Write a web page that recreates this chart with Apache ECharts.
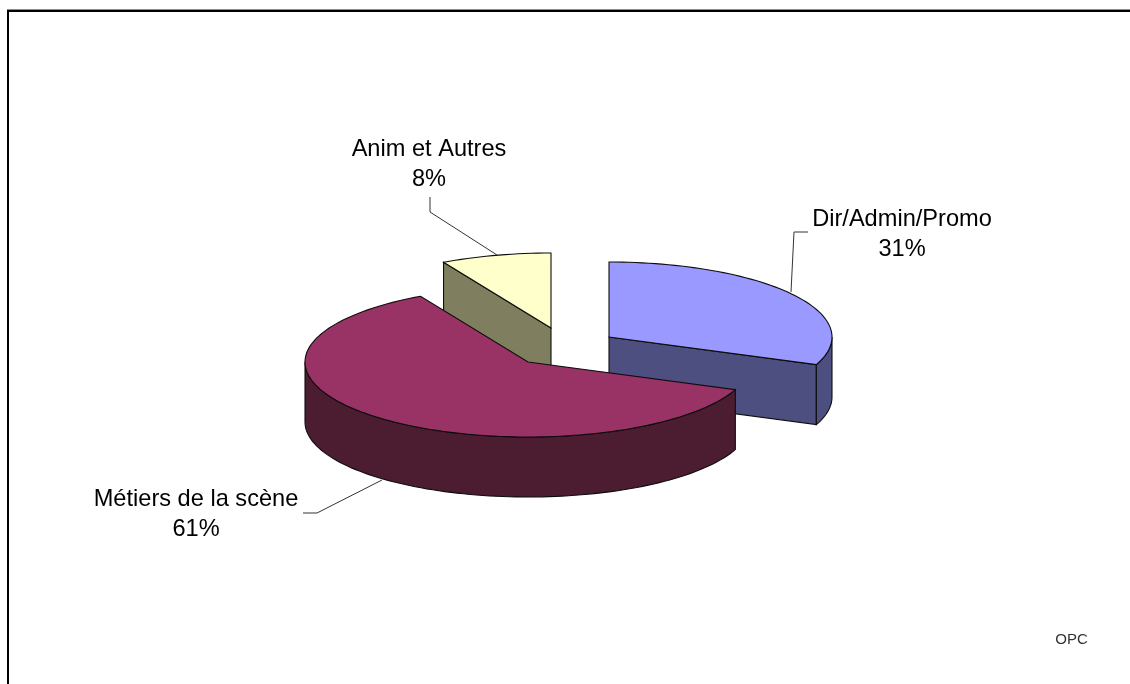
<!DOCTYPE html>
<html>
<head>
<meta charset="utf-8">
<title>Répartition par métiers</title>
<script src="https://cdn.jsdelivr.net/npm/echarts@6/dist/echarts.min.js"></script>
<style>
  html, body { margin: 0; padding: 0; background: #ffffff; }
  #chart { width: 1130px; height: 684px; }
</style>
</head>
<body>
<div id="chart"></div>
<script>
// valeurs
const categories = ['Dir/Admin/Promo', 'Métiers de la scène', 'Anim et Autres'];
const values = [31, 61, 8];
const sourceLabel = 'OPC';

// mise en page du camembert 3D (ordre = categories)
const topColors = ['#9999ff', '#993366', '#ffffcc'];
const sideColors = ['#4c4f80', '#4c1c30', '#7f7f60'];
const centers = [[609, 337], [528, 362], [551, 328]];
const drawOrder = [2, 3, 1];
const labelPos = [[902, 234], [196, 514], [429, 164]];
const leaders = [
  [[808, 232], [794, 232], [791, 292]],
  [[303, 513], [317, 513], [382, 480]],
  [[430, 197], [430, 212], [497, 255]],
];
const rx = 223;
const ry = 75;
const depth = 60;
const outline = '#0d0d0d';

const total = values.reduce((a, b) => a + b, 0);

// angle en radians, 0 = midi, sens horaire
function ellipsePoint(c, a, dy) {
  return [c[0] + rx * Math.sin(a), c[1] - ry * Math.cos(a) + (dy || 0)];
}

function arcPoints(c, from, to, dy) {
  const steps = Math.max(2, Math.ceil(Math.abs(to - from) / 0.03));
  const pts = [];
  for (let i = 0; i <= steps; i++) {
    pts.push(ellipsePoint(c, from + ((to - from) * i) / steps, dy));
  }
  return pts;
}

function poly(points, fill, z2) {
  return {
    type: 'polygon',
    z2: z2,
    shape: { points: points },
    style: { fill: fill, stroke: outline, lineWidth: 1.1 },
  };
}

function renderSlice(params, api) {
  const i = params.dataIndex;
  const before = values.slice(0, i).reduce((a, b) => a + b, 0);
  const from = (before / total) * Math.PI * 2;
  const to = ((before + api.value(0)) / total) * Math.PI * 2;
  const c = centers[i];
  const z = drawOrder[i] * 10;
  const children = [];

  // faces coupées tournées vers l'avant
  if (i === 0) {
    const endPt = ellipsePoint(c, to);
    children.push(poly([c, endPt, [endPt[0], endPt[1] + depth], [c[0], c[1] + depth]], sideColors[i], z));
  }
  if (i === 2) {
    const startPt = ellipsePoint(c, from);
    children.push(poly([startPt, c, [c[0], c[1] + depth], [startPt[0], startPt[1] + depth]], sideColors[i], z));
  }

  // paroi extérieure, seulement la moitié avant de l'ellipse
  const wallFrom = Math.max(from, Math.PI / 2);
  const wallTo = Math.min(to, Math.PI * 1.5);
  if (wallTo > wallFrom) {
    const upper = arcPoints(c, wallFrom, wallTo, 0);
    const lower = arcPoints(c, wallTo, wallFrom, depth);
    children.push(poly(upper.concat(lower), sideColors[i], z + 1));
  }

  // dessus de la part
  children.push(poly([c].concat(arcPoints(c, from, to, 0)), topColors[i], z + 2));

  // trait de rappel et étiquette
  children.push({
    type: 'polyline',
    z2: 50,
    shape: { points: leaders[i] },
    style: { fill: 'none', stroke: '#333333', lineWidth: 1 },
  });
  children.push({
    type: 'text',
    z2: 51,
    style: {
      text: categories[i] + '\n' + api.value(0) + '%',
      x: labelPos[i][0],
      y: labelPos[i][1],
      align: 'center',
      verticalAlign: 'middle',
      fill: '#000000',
      font: '23.6px "Liberation Sans", Arial, sans-serif',
      lineHeight: 30,
    },
  });

  return { type: 'group', children: children };
}

const mychart = echarts.init(document.getElementById('chart'), null, { renderer: 'canvas' });

const option = {
  animation: false,
  backgroundColor: '#ffffff',
  graphic: [
    { type: 'rect', shape: { x: 7, y: 9, width: 1123, height: 1 }, style: { fill: '#8c8c8c' } },
    { type: 'rect', shape: { x: 7, y: 10, width: 1123, height: 2 }, style: { fill: '#000000' } },
    { type: 'rect', shape: { x: 7, y: 10, width: 2, height: 674 }, style: { fill: '#000000' } },
    {
      type: 'text',
      style: {
        text: sourceLabel,
        x: 1071.5,
        y: 640,
        align: 'center',
        verticalAlign: 'middle',
        fill: '#333333',
        font: '15px "Liberation Sans", Arial, sans-serif',
      },
    },
  ],
  series: [
    {
      type: 'custom',
      coordinateSystem: 'none',
      renderItem: renderSlice,
      data: values.map((v) => [v]),
    },
  ],
};

mychart.setOption(option);
</script>
</body>
</html>
